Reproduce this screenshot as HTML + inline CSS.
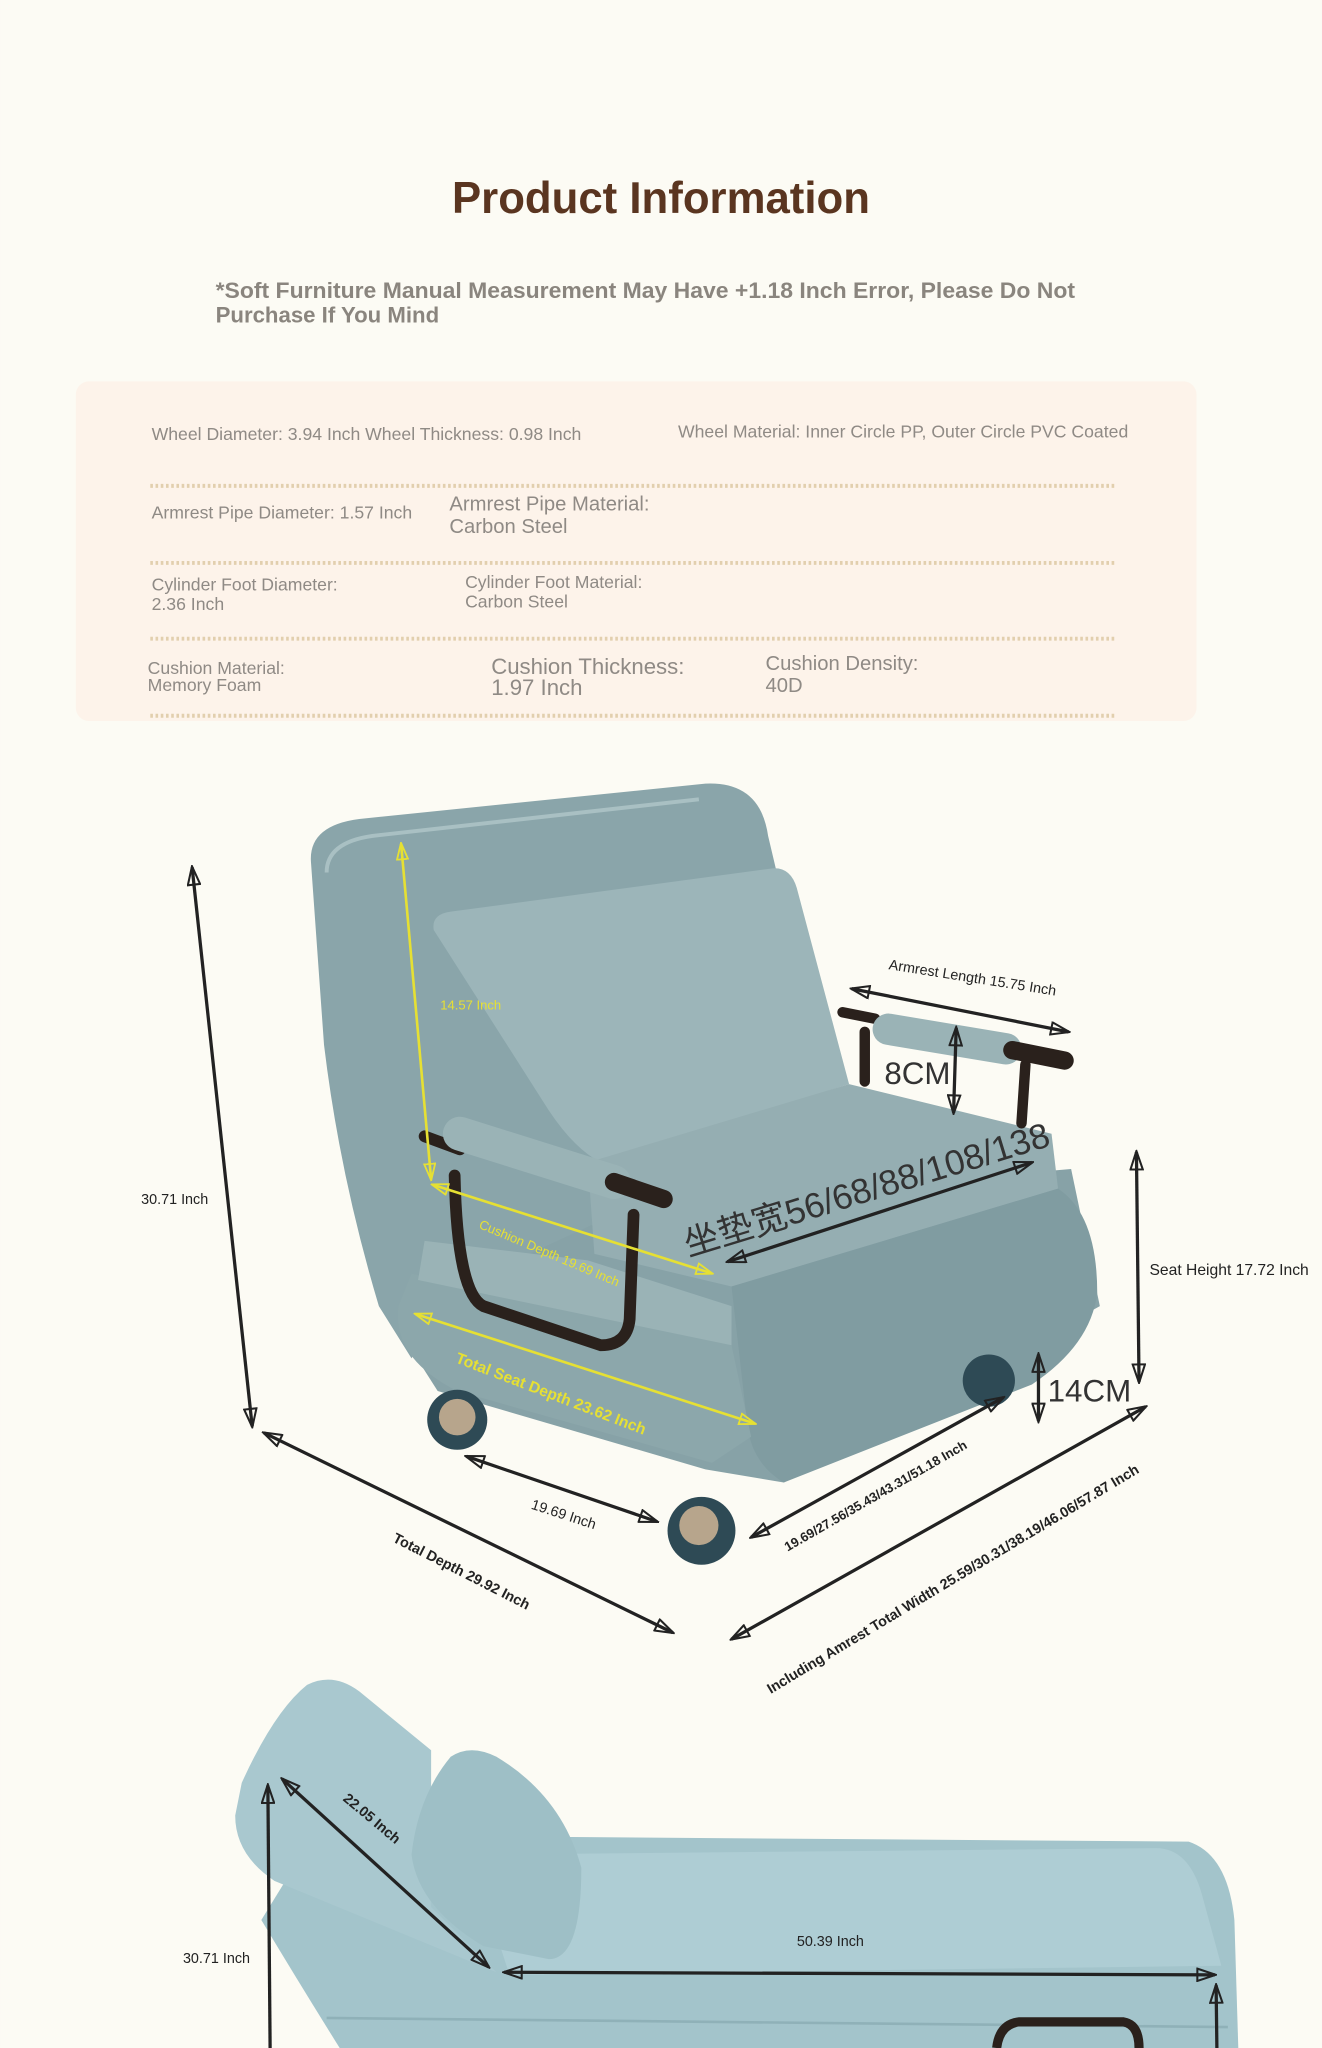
<!DOCTYPE html>
<html><head><meta charset="utf-8"><style>
html,body{margin:0;padding:0;background:#fcfbf4;}
svg{display:block}
text{font-family:"Liberation Sans","Noto Sans CJK SC",sans-serif;}
</style></head><body>
<svg width="1322" height="2048" viewBox="0 0 1012 1568" xmlns="http://www.w3.org/2000/svg">
<defs>
<marker id="a" viewBox="0 0 20 14" refX="18" refY="7" markerWidth="16" markerHeight="11" orient="auto-start-reverse" markerUnits="userSpaceOnUse">
<path d="M1,1 L19,7 L1,13 Z" fill="none" stroke="#222" stroke-width="2"/></marker>
<marker id="y" viewBox="0 0 20 14" refX="18" refY="7" markerWidth="14" markerHeight="10" orient="auto-start-reverse" markerUnits="userSpaceOnUse">
<path d="M1,1 L19,7 L1,13 Z" fill="none" stroke="#e6e033" stroke-width="2"/></marker>
</defs>
<rect width="1012" height="1568" fill="#fcfbf4"/>
<text x="506" y="163" text-anchor="middle" font-size="34" font-weight="bold" fill="#5a3520" textLength="320" lengthAdjust="spacingAndGlyphs">Product Information</text>
<text x="165" y="228" font-size="17" font-weight="bold" fill="#8a857e" textLength="658" lengthAdjust="spacingAndGlyphs">*Soft Furniture Manual Measurement May Have +1.18 Inch Error, Please Do Not</text>
<text x="165" y="247" font-size="17" font-weight="bold" fill="#8a857e">Purchase If You Mind</text>
<rect x="58" y="292" width="858" height="260" rx="10" fill="#fdf3ea"/>
<g fill="#8f8a85" font-size="13.5">
<text x="116" y="337">Wheel Diameter: 3.94 Inch Wheel Thickness: 0.98 Inch</text>
<text x="519" y="335">Wheel Material: Inner Circle PP, Outer Circle PVC Coated</text>
<text x="116" y="397">Armrest Pipe Diameter: 1.57 Inch</text>
<text x="344" y="391" font-size="15.5">Armrest Pipe Material:</text>
<text x="344" y="408" font-size="15.5">Carbon Steel</text>
<text x="116" y="452">Cylinder Foot Diameter:</text>
<text x="116" y="467">2.36 Inch</text>
<text x="356" y="450">Cylinder Foot Material:</text>
<text x="356" y="465">Carbon Steel</text>
<text x="113" y="516">Cushion Material:</text>
<text x="113" y="529">Memory Foam</text>
<text x="376" y="516" font-size="17">Cushion Thickness:</text>
<text x="376" y="532" font-size="17">1.97 Inch</text>
<text x="586" y="513" font-size="15.5">Cushion Density:</text>
<text x="586" y="530" font-size="15.5">40D</text>
</g>
<g stroke="#e2cfae" stroke-width="3" stroke-dasharray="2 2">
<line x1="115" y1="372" x2="855" y2="372"/><line x1="115" y1="431" x2="855" y2="431"/>
<line x1="115" y1="489" x2="855" y2="489"/><line x1="115" y1="548" x2="855" y2="548"/>
</g>

<!-- chair 1 -->
<g>
<path d="M295,940 L820,895 L842,1000 L600,1135 L540,1125 L335,1065 L300,1010 Z" fill="#87a2a7"/>
<path d="M238,660 Q236,632 275,627 L540,600 Q582,598 588,640 L640,860 L470,930 L340,990 L315,1040 L290,1000 Q260,900 248,800 Z" fill="#8aa5aa"/>
<path d="M250,668 Q250,645 285,640 L535,612" fill="none" stroke="#a9c0c3" stroke-width="3"/>
<path d="M332,712 Q330,700 345,698 L590,665 Q605,663 610,680 L650,830 L460,890 Q440,880 420,850 Z" fill="#9cb5b9"/>
<path d="M450,890 L650,830 L805,868 L810,910 L560,985 L455,960 Z" fill="#95aeb2"/>
<path d="M560,985 L810,910 Q840,930 840,990 Q835,1030 790,1060 L600,1135 Q575,1120 572,1090 Z" fill="#809ca1"/>
<path d="M315,975 L560,1030 L575,1100 L545,1120 L350,1065 Q300,1040 305,1000 Z" fill="#8ca7ab"/>
<path d="M325,950 L450,965 L560,1000 L560,1030 L320,980 Z" fill="#9ab3b6"/>
<circle cx="350" cy="1087" r="23" fill="#2e4a55"/><circle cx="350" cy="1085" r="14" fill="#b7a58c"/>
<circle cx="537" cy="1172" r="26" fill="#2e4a55"/><circle cx="535" cy="1168" r="15" fill="#b7a58c"/>
<circle cx="757" cy="1057" r="20" fill="#2e4a55"/>
<path d="M325,870 L352,880 M348,900 Q350,990 370,1000 L460,1030 Q480,1030 482,1010 L485,930" fill="none" stroke="#2a211c" stroke-width="9" stroke-linecap="round"/>
<path d="M352,868 L470,905" stroke="#9ab3b6" stroke-width="26" stroke-linecap="round"/>
<path d="M470,905 L508,918" stroke="#2a211c" stroke-width="14" stroke-linecap="round"/>
<path d="M645,775 L670,780 M662,790 L662,828 M785,815 L782,860" stroke="#2a211c" stroke-width="8" stroke-linecap="round"/>
<path d="M680,788 L770,803" stroke="#9ab3b6" stroke-width="24" stroke-linecap="round"/>
<path d="M775,804 L815,812" stroke="#2a211c" stroke-width="14" stroke-linecap="round"/>
</g>
<g stroke="#222" stroke-width="2.5" fill="none" marker-start="url(#a)" marker-end="url(#a)">
<line x1="147" y1="664" x2="193" y2="1092"/>
<line x1="202" y1="1097" x2="515" y2="1250"/>
<line x1="357" y1="1115" x2="503" y2="1165"/>
<line x1="575" y1="1177" x2="768" y2="1070"/>
<line x1="560" y1="1255" x2="877" y2="1077"/>
<line x1="870" y1="882" x2="872" y2="1058"/>
<line x1="795" y1="1037" x2="795" y2="1088"/>
<line x1="732" y1="787" x2="730" y2="852"/>
<line x1="652" y1="757" x2="818" y2="790"/>
<line x1="557" y1="966" x2="790" y2="890"/>
</g>
<g stroke="#e6e033" stroke-width="2" fill="none" marker-start="url(#y)" marker-end="url(#y)">
<line x1="307" y1="646" x2="330" y2="903"/>
<line x1="331" y1="907" x2="545" y2="975"/>
<line x1="318" y1="1006" x2="578" y2="1090"/>
</g>
<g font-size="11" fill="#222" font-weight="bold">
<text x="108" y="922" font-weight="normal">30.71 Inch</text>
<text x="300" y="1180" transform="rotate(27 300 1180)">Total Depth 29.92 Inch</text>
<text x="406" y="1155" transform="rotate(18 406 1155)" font-weight="normal">19.69 Inch</text>
<text x="603" y="1188" transform="rotate(-30 603 1188)" font-size="10">19.69/27.56/35.43/43.31/51.18 Inch</text>
<text x="590" y="1297" transform="rotate(-31 590 1297)">Including Amrest Total Width 25.59/30.31/38.19/46.06/57.87 Inch</text>
<text x="880" y="976" font-weight="normal" font-size="12">Seat Height 17.72 Inch</text>
<text x="680" y="742" transform="rotate(9 680 742)" font-weight="normal">Armrest Length 15.75 Inch</text>
</g>
<text x="802" y="1073" font-size="24" fill="#333">14CM</text>
<text x="677" y="830" font-size="24" fill="#333">8CM</text>
<text x="527" y="962" font-size="27" fill="#333" transform="rotate(-17 527 962)">坐垫宽56/68/88/108/138</text>
<g fill="#e6e033" font-size="10">
<text x="337" y="773">14.57 Inch</text>
<text x="366" y="940" transform="rotate(23 366 940)">Cushion Depth 19.69 Inch</text>
<text x="348" y="1043" transform="rotate(21 348 1043)" font-size="12" font-weight="bold">Total Seat Depth 23.62 Inch</text>
</g>

<!-- chair 2 -->
<path d="M240,1405 L910,1410 Q940,1420 945,1470 L948,1568 L260,1568 Q230,1520 200,1470 Z" fill="#a3c4cb"/>
<path d="M360,1420 L885,1415 Q910,1415 920,1450 L935,1505 L390,1512 Z" fill="#aecdd4"/>
<path d="M185,1365 Q210,1310 235,1290 Q255,1280 275,1295 L330,1340 L330,1460 L380,1510 L210,1440 Q180,1420 180,1390 Z" fill="#a9c8cf"/>
<path d="M345,1345 Q360,1335 380,1345 Q430,1375 445,1430 Q445,1500 420,1500 L370,1490 Q320,1460 315,1420 Q320,1375 345,1345 Z" fill="#9ebfc6"/>
<path d="M250,1545 L940,1552" stroke="#8fb1b8" stroke-width="2"/>
<path d="M763,1568 Q765,1550 780,1548 L860,1548 Q872,1550 872,1568" fill="none" stroke="#2a211c" stroke-width="7"/>
<g stroke="#222" stroke-width="2.5" fill="none" marker-start="url(#a)" marker-end="url(#a)">
<line x1="205" y1="1367" x2="207" y2="1600"/>
<line x1="216" y1="1362" x2="374" y2="1506"/>
<line x1="386" y1="1510" x2="930" y2="1512"/>
<line x1="931" y1="1520" x2="932" y2="1600"/>
</g>
<g font-size="11" fill="#222">
<text x="140" y="1503">30.71 Inch</text>
<text x="610" y="1490">50.39 Inch</text>
<text x="262" y="1378" transform="rotate(40 262 1378)" font-weight="bold">22.05 Inch</text>
</g>
</svg>
</body></html>
